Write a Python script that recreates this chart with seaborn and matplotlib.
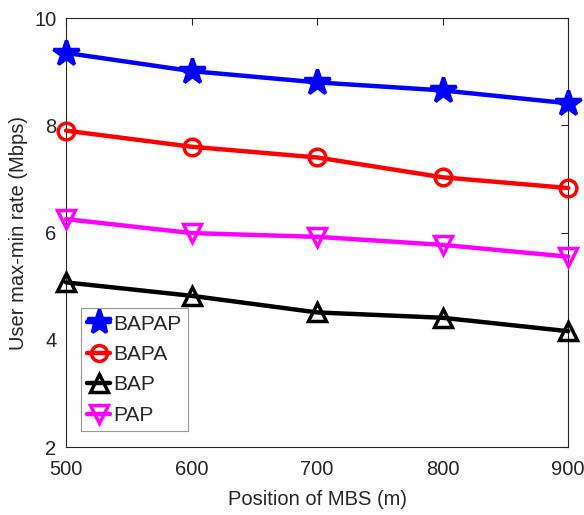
import matplotlib
matplotlib.use("Agg")
import matplotlib.pyplot as plt
import seaborn as sns
import pandas as pd

positions = [500, 600, 700, 800, 900]
bapap = [9.35, 9.01, 8.80, 8.65, 8.41]
bapa = [7.90, 7.60, 7.40, 7.03, 6.83]
bap = [5.07, 4.82, 4.51, 4.41, 4.16]
pap = [6.25, 5.99, 5.92, 5.77, 5.55]

series_names = ["BAPAP", "BAPA", "BAP", "PAP"]
series_vals = [bapap, bapa, bap, pap]
colors = ["#0000ff", "#ff0000", "#000000", "#ff00ff"]
markers = ["*", "o", "^", "v"]
msizes = [19, 12, 13, 13]
fills = ["#0000ff", "none", "none", "none"]

sns.set_theme(style="white")
plt.rcParams["font.family"] = ["Liberation Sans", "DejaVu Sans"]

fig = plt.figure(figsize=(5.84, 5.15), dpi=100)
ax = fig.add_axes([0.113, 0.132, 0.86, 0.833])

for name, vals, c, m, ms, fc in zip(series_names, series_vals, colors, markers, msizes, fills):
    df = pd.DataFrame({"x": positions, "y": vals})
    sns.lineplot(data=df, x="x", y="y", ax=ax, color=c, marker=m, markersize=ms,
                 markerfacecolor=fc, markeredgecolor=c, markeredgewidth=2.5,
                 linewidth=3.2, label=name, clip_on=False, zorder=3)

ax.set_xlim(500, 900)
ax.set_ylim(2, 10)
ax.set_xticks([500, 600, 700, 800, 900])
ax.set_yticks([2, 4, 6, 8, 10])
ax.tick_params(axis="both", which="both", direction="in", top=True, right=True,
               labelsize=14.5, length=5, width=0.8, colors="#262626")
ax.tick_params(axis="x", pad=9)
ax.tick_params(axis="y", pad=7)
for s in ax.spines.values():
    s.set_color("#262626")
    s.set_linewidth(0.8)
ax.set_xlabel("Position of MBS (m)", fontsize=14.5, color="#262626", labelpad=8)
ax.set_ylabel("User max-min rate (Mbps)", fontsize=14.5, color="#262626")

leg = ax.legend(loc="lower left", bbox_to_anchor=(0.03, 0.037), fontsize=15,
                frameon=True, fancybox=False, handlelength=1.1, handletextpad=0.15,
                borderpad=0.3, labelspacing=0.55, borderaxespad=0, markerscale=0.95)
leg.get_frame().set_edgecolor("#7f7f7f")
leg.get_frame().set_linewidth(0.8)
leg.set_zorder(5)

fig.savefig("out.png", dpi=100)
